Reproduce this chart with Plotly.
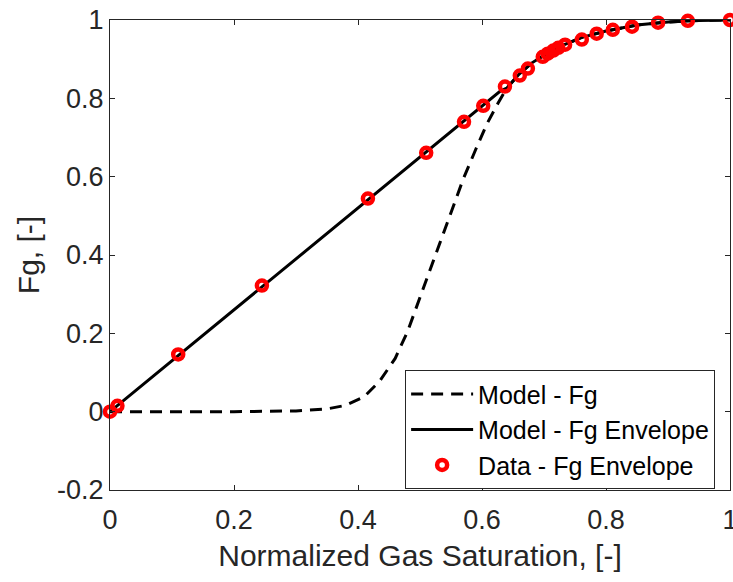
import plotly.graph_objects as go

# Model foam fractional-flow curve (Fg vs normalized gas saturation)
model_sg = [0.0, 0.1, 0.2, 0.3, 0.35, 0.38, 0.41, 0.435, 0.46, 0.48, 0.495, 0.513,
            0.527, 0.543, 0.555, 0.57, 0.59, 0.608, 0.626, 0.64, 0.66, 0.68, 0.70,
            0.73, 0.76, 0.80, 0.85, 0.90, 0.95, 1.0]
model_fg = [0.0, 0.0, 0.0, 0.002, 0.007, 0.016, 0.038, 0.078, 0.136, 0.205, 0.27, 0.352,
            0.412, 0.48, 0.53, 0.595, 0.67, 0.735, 0.788, 0.826, 0.862, 0.89, 0.91,
            0.935, 0.955, 0.972, 0.987, 0.995, 0.999, 1.0]

# Envelope: straight tangent segment, then the model curve
env_sg = [0.0, 0.63, 0.64, 0.66, 0.68, 0.70, 0.73, 0.76, 0.80, 0.85, 0.90, 0.95, 1.0]
env_fg = [0.0, 0.819, 0.826, 0.862, 0.89, 0.91, 0.935, 0.955, 0.972, 0.987, 0.995, 0.999, 1.0]

# Measured envelope points
data_sg = [0.0, 0.012, 0.110, 0.245, 0.416, 0.510, 0.571, 0.602, 0.637, 0.661, 0.674,
           0.698, 0.706, 0.715, 0.723, 0.734, 0.761, 0.785, 0.811, 0.842, 0.884, 0.932, 1.0]
data_fg = [0.0, 0.015, 0.146, 0.322, 0.544, 0.661, 0.740, 0.781, 0.830, 0.858, 0.876,
           0.906, 0.914, 0.922, 0.929, 0.937, 0.950, 0.965, 0.975, 0.983, 0.993, 0.998, 1.0]

x_ticks = [0, 0.2, 0.4, 0.6, 0.8, 1]
y_ticks = [-0.2, 0, 0.2, 0.4, 0.6, 0.8, 1]

axis_color = "#262626"
font_family = "Liberation Sans, Arial, sans-serif"

fig = go.Figure()
fig.add_trace(go.Scatter(x=model_sg, y=model_fg, mode="lines", name="Model - Fg",
                         line=dict(color="black", width=3, dash="12px,8px")))
fig.add_trace(go.Scatter(x=env_sg, y=env_fg, mode="lines", name="Model - Fg Envelope",
                         line=dict(color="black", width=3)))
fig.add_trace(go.Scatter(x=data_sg, y=data_fg, mode="markers", name="Data - Fg Envelope",
                         cliponaxis=False,
                         marker=dict(symbol="circle-open", size=10, color="#ff0000",
                                     line=dict(width=4.5, color="#ff0000"))))

axis_common = dict(showline=True, linecolor=axis_color, linewidth=1, mirror="ticks",
                   ticks="inside", ticklen=5, tickcolor=axis_color, showgrid=False,
                   zeroline=False, ticklabeloverflow="allow", automargin=False,
                   tickfont=dict(size=27, color=axis_color, family=font_family))

fig.update_xaxes(range=[0, 1], tickvals=x_ticks, ticktext=[f"{v:g}" for v in x_ticks],
                 ticklabelstandoff=6,
                 title=dict(text="Normalized Gas Saturation, [-]", standoff=10,
                            font=dict(size=30, color=axis_color, family=font_family)),
                 **axis_common)
fig.update_yaxes(range=[-0.2, 1], tickvals=y_ticks, ticktext=[f"{v:g}" for v in y_ticks],
                 title=dict(text="Fg, [-]", standoff=8,
                            font=dict(size=30, color=axis_color, family=font_family)),
                 **axis_common)

fig.update_layout(
    width=733, height=582,
    margin=dict(l=110, r=3, t=20, b=92),
    plot_bgcolor="white", paper_bgcolor="white",
    font=dict(family=font_family, color=axis_color),
    legend=dict(x=0.476, y=0.255, xanchor="left", yanchor="top",
                bgcolor="white", bordercolor=axis_color, borderwidth=1,
                font=dict(size=25, color="black", family=font_family),
                itemwidth=62, tracegroupgap=0),
)

fig.write_html("out.html")
